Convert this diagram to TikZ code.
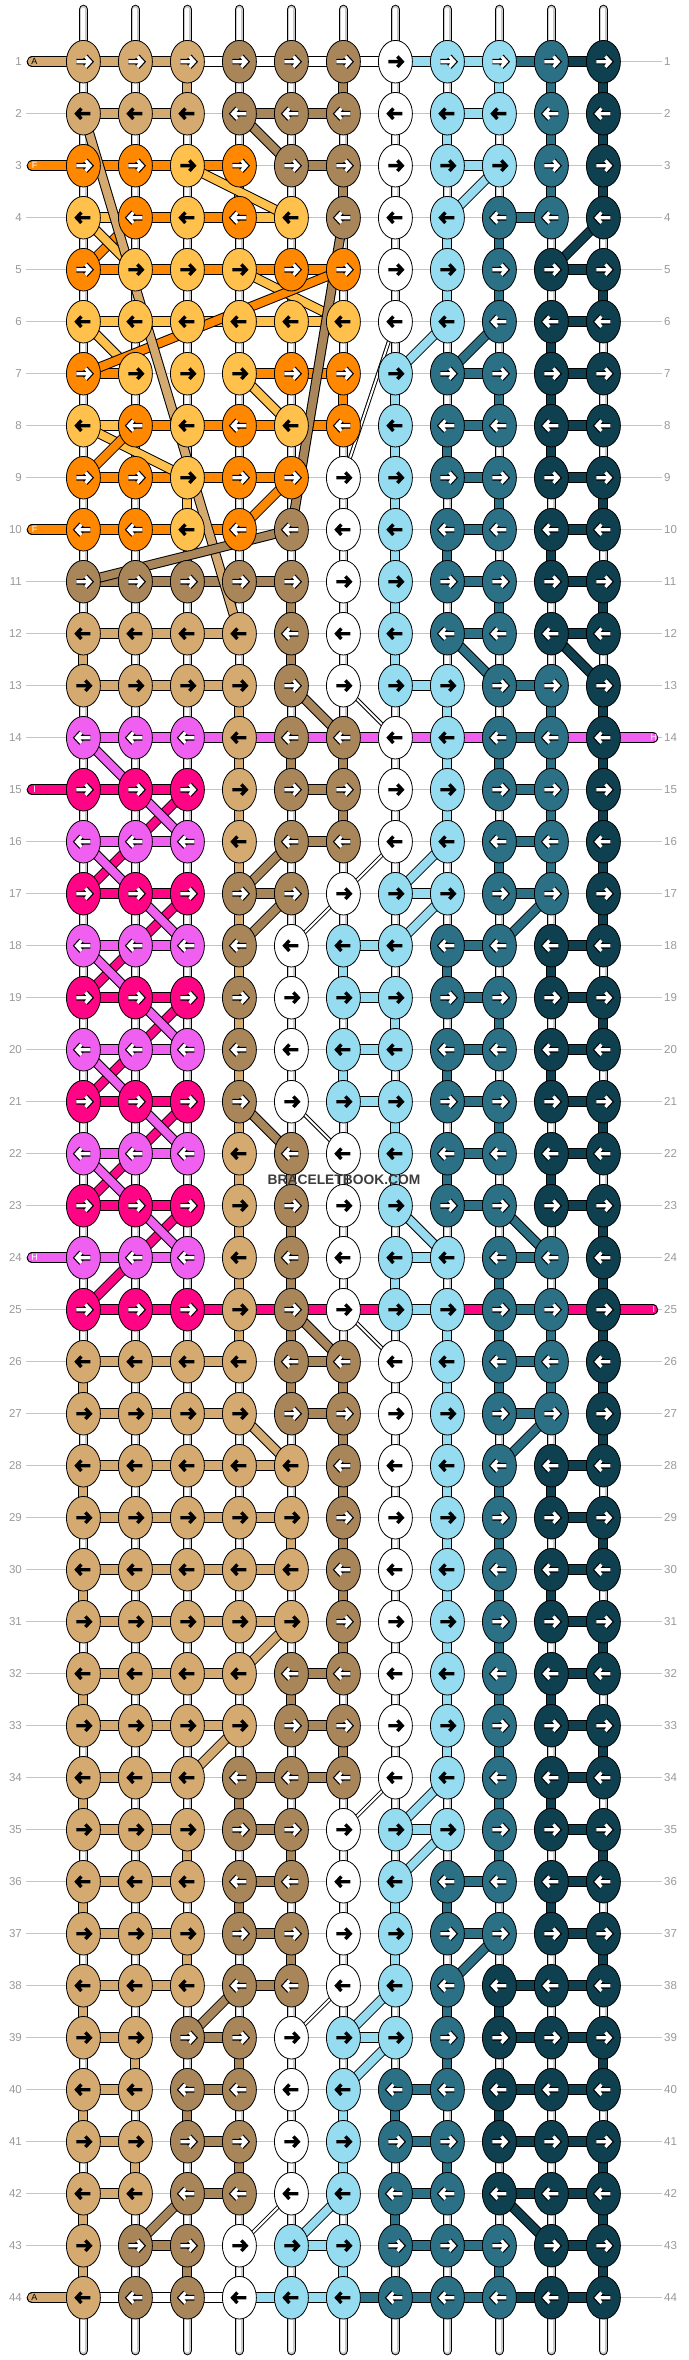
\documentclass[tikz,border=0pt]{standalone}
\usepackage{fontspec}
\setmainfont{Liberation Sans}
\usetikzlibrary{shapes.geometric}
\definecolor{cT}{HTML}{D4AA70}
\definecolor{cB}{HTML}{A8865A}
\definecolor{cW}{HTML}{FFFFFF}
\definecolor{cL}{HTML}{95DCF0}
\definecolor{cE}{HTML}{2B7085}
\definecolor{cD}{HTML}{0F4050}
\definecolor{cO}{HTML}{FF8800}
\definecolor{cY}{HTML}{FFC04C}
\definecolor{cM}{HTML}{F060F0}
\definecolor{cP}{HTML}{FF0484}
\definecolor{glab}{HTML}{999999}
\definecolor{gline}{HTML}{C4C4C4}
\definecolor{gstrand}{HTML}{C8C8C8}
\definecolor{wmark}{HTML}{3C3C3C}
\tikzset{
  knot/.style={ellipse,draw=black,line width=0.8pt,minimum width=34pt,minimum height=42.6pt,inner sep=0pt,outer sep=0pt},
  rowlab/.style={text=glab,font=\fontsize{11.5}{12}\selectfont,inner sep=0pt},
  endlab/.style={font=\fontsize{9}{10}\selectfont,inner sep=0pt},
  guide/.style={gline,line width=1pt},
}
\newcount\mygc
\def\myrow{}
% knot with arrow
\newcommand\dknot[3]{%
  \node[knot,fill=c#3] (k-#1-#2) at (p-#1-#2) {};%
  \ifodd#1\relax\def\arrsg{1}\else\def\arrsg{-1}\fi
  \def\arrcol{w}%
  \if#3T\def\arrcol{b}\fi
  \if#3Y\def\arrcol{b}\fi
  \if#3W\def\arrcol{b}\fi
  \if#3L\def\arrcol{b}\fi
  \ifnum#1=1\relax\if#3W\else\def\arrcol{w}\fi\fi
  \if\arrcol w%
    \draw[black,line width=5.6pt,line join=miter,shift={(p-#1-#2)},xscale=\arrsg] (-7,0)--(6.3,0) (2,-5.2)--(6.8,0)--(2,5.2);
    \draw[white,line width=3.2pt,line join=miter,shift={(p-#1-#2)},xscale=\arrsg] (-7,0)--(6.3,0) (2,-5.2)--(6.8,0)--(2,5.2);
  \else
    \draw[black,line width=3.4pt,line join=miter,shift={(p-#1-#2)},xscale=\arrsg] (-7,0)--(6.3,0) (2,-5.2)--(6.8,0)--(2,5.2);
  \fi}
% horizontal bar between column c and c+1
\newcommand\dhbar[3]{%
  \pgfmathtruncatemacro\mycn{#2+1}%
  \draw[black,line width=11.5pt] (p-#1-#2)--(p-#1-\mycn);
  \draw[c#3,line width=9.5pt] (p-#1-#2)--(p-#1-\mycn);}
% vertical coloured segment between row r and r+1
\newcommand\dvseg[3]{%
  \pgfmathtruncatemacro\myrn{#1+1}%
  \draw[black,line width=10pt] (p-#1-#2)--(p-\myrn-#2);
  \draw[c#3,line width=8pt] (p-#1-#2)--(p-\myrn-#2);}
% diagonal thread
\newcommand\ddiag[5]{%
  \draw[black,line width=10pt] (p-#2-#3)--(p-#4-#5);
  \draw[c#1,line width=8pt] (p-#2-#3)--(p-#4-#5);}
% thin white thread
\newcommand\dthin[4]{%
  \draw[black,line width=4pt] (p-#1-#2)--(p-#3-#4);
  \draw[white,line width=2pt] (p-#1-#2)--(p-#3-#4);}
% loops over character strings
\def\krow#1#2{\def\myrow{#1}\mygc=0 \kloop#2\relax}
\def\kloop#1{\ifx#1\relax\else\advance\mygc by 1 \edef\mytmp{\noexpand\dknot{\myrow}{\the\mygc}{#1}}\mytmp\expandafter\kloop\fi}
\def\hrow#1#2{\def\myrow{#1}\mygc=0 \hloop#2\relax}
\def\hloop#1{\ifx#1\relax\else\advance\mygc by 1 \if#1.\else\edef\mytmp{\noexpand\dhbar{\myrow}{\the\mygc}{#1}}\mytmp\fi\expandafter\hloop\fi}
\def\vrow#1#2{\def\myrow{#1}\mygc=0 \vloop#2\relax}
\def\vloop#1{\ifx#1\relax\else\advance\mygc by 1 \if#1w\else\edef\mytmp{\noexpand\dvseg{\myrow}{\the\mygc}{#1}}\mytmp\fi\expandafter\vloop\fi}
% thread ends
\newcommand\dendL[4]{%
  \coordinate (e-#1) at ([xshift=-50.9pt]p-#1-1);
  \draw[black,line width=11.5pt,line cap=round] (e-#1)--(p-#1-1);
  \draw[c#2,line width=9.5pt,line cap=round] (e-#1)--(p-#1-1);
  \node[endlab,text=#4] (el-#1) at ([xshift=2pt]e-#1) {#3};}
\newcommand\dendR[4]{%
  \coordinate (e-#1) at ([xshift=49pt]p-#1-11);
  \draw[black,line width=11.5pt,line cap=round] (p-#1-11)--(e-#1);
  \draw[c#2,line width=9.5pt,line cap=round] (p-#1-11)--(e-#1);
  \node[endlab,text=#4] (el-#1) at ([xshift=1.5pt]e-#1) {#3};}

\begin{document}
\begin{tikzpicture}[x=1pt,y=-1pt]
\useasboundingbox (0,0) rectangle (688,2360);
\fill[white] (0,0) rectangle (688,2360);
\foreach \r in {1,...,44}{\foreach \c in {1,...,11}{\coordinate (p-\r-\c) at ({83.4+52*(\c-1)},{61.7+52*(\r-1)});}}
% guide lines and row numbers
\foreach \r in {1,...,44}{
  \draw[guide] ([xshift=-57.4pt]p-\r-1) -- ([xshift=58.6pt]p-\r-11);
  \node[rowlab,anchor=east] (ll-\r) at ([xshift=-61.4pt]p-\r-1) {\r};
  \node[rowlab,anchor=west] (lr-\r) at ([xshift=60.6pt]p-\r-11) {\r};
}
% base strands
\foreach \c in {1,...,11}{
  \coordinate (st-\c) at ([yshift=52.2pt]p-1-\c);
  \coordinate (sb-\c) at ([yshift=-52.8pt]p-44-\c);
  \draw[black,line width=9.5pt,line cap=round] (st-\c)--(sb-\c);
  \draw[gstrand,line width=7.5pt,line cap=round] (st-\c)--(sb-\c);
  \draw[white,line width=4pt,line cap=round] (st-\c)--(sb-\c);
}
% vertical coloured segments
\vrow{1}{wwTwwBwwLED}
\vrow{2}{wwwwwwwLwED}
\vrow{3}{wwwOwBwwwED}
\vrow{4}{wwwwwwwLEww}
\vrow{5}{wwwwwwwLEwD}
\vrow{6}{wwwwwwwwwDw}
\vrow{7}{wwwwwOLwEDw}
\vrow{8}{wwwwwwLEwDw}
\vrow{9}{wwYwwwLwEwD}
\vrow{10}{wwwwwwLEwDw}
\vrow{11}{wwwwBwLwEwD}
\vrow{12}{TwwwBwLwwww}
\vrow{13}{wwwTwwwLwED}
\vrow{14}{wwwTBBwLEED}
\vrow{15}{wwwTwBwLwED}
\vrow{16}{wwwTwwwwEED}
\vrow{17}{wwwTwwwwwwD}
\vrow{18}{wwwTwLwEwDw}
\vrow{19}{wwwTwwLwEwD}
\vrow{20}{wwwTwLwEwDw}
\vrow{21}{wwwTwwLwEwD}
\vrow{22}{wwwTBwLEwDw}
\vrow{23}{wwwTBwwwwwD}
\vrow{24}{wwwTBwLwEwD}
\vrow{25}{wwwTBwwLEED}
\vrow{26}{TwwwBBwLEED}
\vrow{27}{wwwwwBwLwwD}
\vrow{28}{TwwwwBwLEDw}
\vrow{29}{wwwwTBwLEwD}
\vrow{30}{TwwwwBwLEDw}
\vrow{31}{wwwwwBwLEwD}
\vrow{32}{TwwwBwwLEDw}
\vrow{33}{wwwwwBwLEwD}
\vrow{34}{TwwBwwwwEDw}
\vrow{35}{wwTwBwwwEwD}
\vrow{36}{TwwBwwLEwDw}
\vrow{37}{wwTwBwLwwwD}
\vrow{38}{TwwwwwwEDww}
\vrow{39}{wTwBwwwEwwD}
\vrow{40}{TwBwwLEwDww}
\vrow{41}{wTwBwLwEwwD}
\vrow{42}{TwwwwwEwwwD}
\vrow{43}{TwBwwLwwEwD}
% horizontal bars
\hrow{1}{TTWWWWLLED}
\hrow{2}{TT.BB..L..}
\hrow{3}{OOO.B..L..}
\hrow{4}{YOOY....E.}
\hrow{5}{OOOOO....D}
\hrow{6}{YYYYY....D}
\hrow{7}{O..OO..E.D}
\hrow{8}{YOOOO..E.D}
\hrow{9}{OOOO...E.D}
\hrow{10}{OOO....E.D}
\hrow{11}{BBBB...E.D}
\hrow{12}{TTT....E.D}
\hrow{13}{TTT...L.E.}
\hrow{14}{MMMMMMMMEM}
\hrow{15}{PP..B...E.}
\hrow{16}{MM..B...E.}
\hrow{17}{PP.B..L.E.}
\hrow{18}{MM...L.E.D}
\hrow{19}{PP...L.E.D}
\hrow{20}{MM...L.E.D}
\hrow{21}{PP...L.E.D}
\hrow{22}{MM.....E.D}
\hrow{23}{PP.....E.D}
\hrow{24}{MM....L.E.}
\hrow{25}{PPPPPPLPEP}
\hrow{26}{TTT.B...E.}
\hrow{27}{TTT.B...E.}
\hrow{28}{TTTT.....D}
\hrow{29}{TTTT.....D}
\hrow{30}{TTTT.....D}
\hrow{31}{TTTT.....D}
\hrow{32}{TTT.B....D}
\hrow{33}{TTT.B....D}
\hrow{34}{TT.BB....D}
\hrow{35}{TT.B..L..D}
\hrow{36}{TT.B...E.D}
\hrow{37}{TT.B...E.D}
\hrow{38}{TT.B....DD}
\hrow{39}{T.B..L..DD}
\hrow{40}{T.B...E.DD}
\hrow{41}{T.B...E.DD}
\hrow{42}{T.B...E.DD}
\hrow{43}{.B..L.EE.D}
\hrow{44}{WWWLLEEEDD}
% diagonal threads
\ddiag{B}{2}{4}{3}{5}
\ddiag{Y}{3}{3}{4}{5}
\ddiag{L}{3}{9}{4}{8}
\ddiag{D}{4}{11}{5}{10}
\ddiag{O}{4}{2}{5}{1}
\ddiag{Y}{4}{1}{5}{2}
\ddiag{Y}{5}{4}{6}{6}
\ddiag{Y}{6}{1}{7}{2}
\ddiag{L}{6}{8}{7}{7}
\ddiag{E}{6}{9}{7}{8}
\dthin{6}{7}{9}{6}
\ddiag{Y}{7}{4}{8}{5}
\ddiag{Y}{8}{1}{9}{3}
\ddiag{O}{8}{2}{9}{1}
\ddiag{O}{9}{5}{10}{4}
\ddiag{B}{4}{6}{10}{5}
\ddiag{O}{5}{6}{7}{1}
\ddiag{T}{2}{1}{12}{4}
\ddiag{B}{10}{5}{11}{1}
\ddiag{E}{12}{8}{13}{9}
\ddiag{D}{12}{10}{13}{11}
\ddiag{B}{13}{5}{14}{6}
\dthin{13}{6}{14}{7}
\ddiag{P}{15}{3}{16}{2}
\ddiag{P}{16}{2}{17}{1}
\ddiag{P}{17}{3}{18}{2}
\ddiag{P}{18}{2}{19}{1}
\ddiag{P}{19}{3}{20}{2}
\ddiag{P}{20}{2}{21}{1}
\ddiag{P}{21}{3}{22}{2}
\ddiag{P}{22}{2}{23}{1}
\ddiag{P}{23}{3}{24}{2}
\ddiag{P}{24}{2}{25}{1}
\ddiag{M}{14}{1}{15}{2}
\ddiag{M}{15}{2}{16}{3}
\ddiag{M}{16}{1}{17}{2}
\ddiag{M}{17}{2}{18}{3}
\ddiag{M}{18}{1}{19}{2}
\ddiag{M}{19}{2}{20}{3}
\ddiag{M}{20}{1}{21}{2}
\ddiag{M}{21}{2}{22}{3}
\ddiag{M}{22}{1}{23}{2}
\ddiag{M}{23}{2}{24}{3}
\ddiag{B}{16}{5}{17}{4}
\dthin{16}{7}{17}{6}
\ddiag{L}{16}{8}{17}{7}
\ddiag{B}{17}{5}{18}{4}
\dthin{17}{6}{18}{5}
\ddiag{L}{17}{8}{18}{7}
\ddiag{E}{17}{10}{18}{9}
\ddiag{B}{21}{4}{22}{5}
\dthin{21}{5}{22}{6}
\ddiag{L}{23}{7}{24}{8}
\ddiag{E}{23}{9}{24}{10}
\ddiag{B}{25}{5}{26}{6}
\dthin{25}{6}{26}{7}
\ddiag{T}{27}{4}{28}{5}
\ddiag{E}{27}{10}{28}{9}
\ddiag{T}{31}{5}{32}{4}
\ddiag{T}{33}{4}{34}{3}
\dthin{34}{7}{35}{6}
\ddiag{L}{34}{8}{35}{7}
\ddiag{L}{35}{8}{36}{7}
\ddiag{E}{37}{9}{38}{8}
\ddiag{B}{38}{4}{39}{3}
\dthin{38}{6}{39}{5}
\ddiag{L}{38}{7}{39}{6}
\ddiag{L}{39}{7}{40}{6}
\ddiag{B}{42}{3}{43}{2}
\dthin{42}{5}{43}{4}
\ddiag{L}{42}{6}{43}{5}
\ddiag{D}{42}{9}{43}{10}
% thread ends
\dendL{1}{T}{A}{black}
\dendL{3}{O}{F}{white}
\dendL{10}{O}{F}{white}
\dendL{15}{P}{I}{white}
\dendL{24}{M}{H}{white}
\dendL{44}{T}{A}{black}
\dendR{14}{M}{H}{white}
\dendR{25}{P}{I}{white}
% knots
\krow{1}{TTTBBBWLLED}
\krow{2}{TTTBBBWLLED}
\krow{3}{OOYOBBWLLED}
\krow{4}{YOYOYBWLEED}
\krow{5}{OYYYOOWLEDD}
\krow{6}{YYYYYYWLEDD}
\krow{7}{OYYYOOLEEDD}
\krow{8}{YOYOYOLEEDD}
\krow{9}{OOYOOWLEEDD}
\krow{10}{OOYOBWLEEDD}
\krow{11}{BBBBBWLEEDD}
\krow{12}{TTTTBWLEEDD}
\krow{13}{TTTTBWLLEED}
\krow{14}{MMMTBBWLEED}
\krow{15}{PPPTBBWLEED}
\krow{16}{MMMTBBWLEED}
\krow{17}{PPPBBWLLEED}
\krow{18}{MMMBWLLEEDD}
\krow{19}{PPPBWLLEEDD}
\krow{20}{MMMBWLLEEDD}
\krow{21}{PPPBWLLEEDD}
\krow{22}{MMMTBWLEEDD}
\krow{23}{PPPTBWLEEDD}
\krow{24}{MMMTBWLLEED}
\krow{25}{PPPTBWLLEED}
\krow{26}{TTTTBBWLEED}
\krow{27}{TTTTBBWLEED}
\krow{28}{TTTTTBWLEDD}
\krow{29}{TTTTTBWLEDD}
\krow{30}{TTTTTBWLEDD}
\krow{31}{TTTTTBWLEDD}
\krow{32}{TTTTBBWLEDD}
\krow{33}{TTTTBBWLEDD}
\krow{34}{TTTBBBWLEDD}
\krow{35}{TTTBBWLLEDD}
\krow{36}{TTTBBWLEEDD}
\krow{37}{TTTBBWLEEDD}
\krow{38}{TTTBBWLEDDD}
\krow{39}{TTBBWLLEDDD}
\krow{40}{TTBBWLEEDDD}
\krow{41}{TTBBWLEEDDD}
\krow{42}{TTBBWLEEDDD}
\krow{43}{TBBWLLEEEDD}
\krow{44}{TBBWLLEEEDD}
% watermark
\node[font=\bfseries\fontsize{13.8}{14}\selectfont,text=wmark,inner sep=0pt] (wm) at (344,1180) {BRACELETBOOK.COM};
\end{tikzpicture}
\end{document}
